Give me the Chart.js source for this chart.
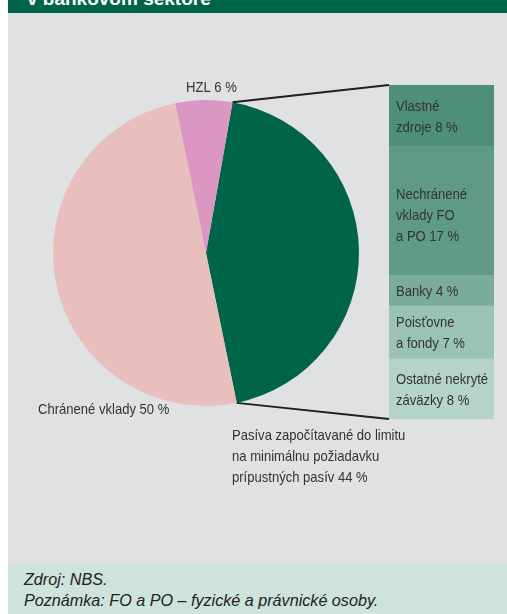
<!DOCTYPE html>
<html>
<head>
<meta charset="utf-8">
<script src="https://cdn.jsdelivr.net/npm/chart.js@4.4.1/dist/chart.umd.min.js"></script>
<style>
body { margin: 0; width: 507px; height: 614px; overflow: hidden; background: #fff; position: relative; }
#band { position: absolute; left: 8px; top: 0; width: 499px; height: 13px; background: #00644b; overflow: hidden; }
#band span { position: absolute; left: 19px; top: -12px; color: #fff; font: bold 19px "Liberation Sans", sans-serif; white-space: nowrap; }
#panel { position: absolute; left: 8px; top: 13px; width: 499px; height: 552px; background: #e0e1e3; }
#pieWrap { position: absolute; left: 8px; top: 13px; width: 499px; height: 552px; }
#barWrap { position: absolute; left: 389px; top: 85px; width: 105px; height: 334px; }
#foot { position: absolute; left: 8px; top: 565px; width: 499px; height: 49px; background: #cde3dc; overflow: hidden;
        font: italic 17px "Liberation Sans", sans-serif; color: #222; }
#foot div { position: absolute; left: 16px; white-space: nowrap; transform: scaleX(0.95); transform-origin: left top; }
</style>
</head>
<body>
<div id="band"><span>v bankovom sektore</span></div>
<div id="panel"></div>
<div id="pieWrap"><canvas id="pieChart"></canvas></div>
<div id="barWrap"><canvas id="barChart"></canvas></div>
<div id="foot">
  <div style="top:5px">Zdroj: NBS.</div>
  <div style="top:26px">Poznámka: FO a PO – fyzické a právnické osoby.</div>
</div>
<script>
// pie data
const pieLabels = [
    ['Pasíva započítavané do limitu', 'na minimálnu požiadavku', 'prípustných pasív 44 %'],
    ['Chránené vklady 50 %'],
    ['HZL 6 %']
];
const pieValues = [44, 50, 6];
const pieColors = ['#006548', '#e8bfbd', '#dc96c3'];

// breakdown of the 44 % (top to bottom)
const barLabels = [
    ['Vlastné', 'zdroje 8 %'],
    ['Nechránené', 'vklady FO', 'a PO 17 %'],
    ['Banky 4 %'],
    ['Poisťovne', 'a fondy 7 %'],
    ['Ostatné nekryté', 'záväzky 8 %']
];
const barValues = [8, 17, 4, 7, 8];
const barColors = ['#4e8f79', '#5e9a86', '#7bab99', '#9ac3b4', '#b3d4c7'];

const FONT = '14.5px "Liberation Sans", sans-serif';
const TEXT = '#333333';

// condensed-looking text (squeeze horizontally)
function condText(ctx, t, x, y) {
    ctx.save();
    ctx.translate(x, y);
    ctx.scale(0.9, 1);
    ctx.fillText(t, 0, 0);
    ctx.restore();
}

// ✅ Stacked bar with the breakdown
const barLabelPlugin = {
    id: 'barLabels',
    afterDatasetsDraw(chart) {
        const ctx = chart.ctx;
        ctx.save();
        ctx.font = FONT;
        ctx.fillStyle = TEXT;
        ctx.textBaseline = 'middle';
        chart.data.datasets.forEach((ds, i) => {
            const el = chart.getDatasetMeta(i).data[0];
            const top = Math.min(el.y, el.base), bot = Math.max(el.y, el.base);
            const lines = barLabels[i];
            const mid = (top + bot) / 2 + (lines.length > 2 ? 6 : 2);
            lines.forEach((t, j) => {
                condText(ctx, t, el.x - el.width / 2 + 7, mid + (j - (lines.length - 1) / 2) * 21);
            });
        });
        ctx.restore();
    }
};

const barChart = new Chart(document.getElementById('barChart'), {
    type: 'bar',
    data: {
        labels: [''],
        datasets: barValues.map((v, i) => ({
            label: barLabels[i].join(' '),
            data: [v],
            backgroundColor: barColors[i],
            borderWidth: 0,
            barPercentage: 1,
            categoryPercentage: 1
        }))
    },
    options: {
        responsive: true,
        maintainAspectRatio: false,
        animation: false,
        layout: { padding: 0 },
        plugins: { legend: { display: false }, tooltip: { enabled: false } },
        scales: {
            x: { stacked: true, display: false },
            y: { stacked: true, display: false, reverse: true, min: 0, max: 44 }
        }
    },
    plugins: [barLabelPlugin]
});

// ✅ Pie with connector lines and labels
const pieExtras = {
    id: 'pieExtras',
    afterDatasetsDraw(chart) {
        const ctx = chart.ctx;
        const arc = chart.getDatasetMeta(0).data[0];
        const r = arc.outerRadius;
        const p1 = [arc.x + r * Math.cos(arc.startAngle), arc.y + r * Math.sin(arc.startAngle)];
        const p2 = [arc.x + r * Math.cos(arc.endAngle), arc.y + r * Math.sin(arc.endAngle)];
        // bar position relative to the pie canvas
        const dx = 389 - 8, dy = 85 - 13;
        const ca = barChart.chartArea;
        const q1 = [ca.left + dx, ca.top + dy];
        const q2 = [ca.left + dx, ca.bottom + dy];
        ctx.save();
        ctx.strokeStyle = '#231f20';
        ctx.lineWidth = 2;
        ctx.beginPath();
        ctx.moveTo(p1[0], p1[1]); ctx.lineTo(q1[0], q1[1]);
        ctx.moveTo(p2[0], p2[1]); ctx.lineTo(q2[0], q2[1]);
        ctx.stroke();

        ctx.font = FONT;
        ctx.fillStyle = TEXT;
        ctx.textBaseline = 'alphabetic';
        // Pasíva label under the lower line
        pieLabels[0].forEach((t, j) => condText(ctx, t, 224, 427 + j * 21));
        // Chránené vklady
        condText(ctx, pieLabels[1][0], 30, 401);
        // HZL
        condText(ctx, pieLabels[2][0], 178, 79);
        ctx.restore();
    }
};

new Chart(document.getElementById('pieChart'), {
    type: 'pie',
    data: {
        labels: pieLabels.map(l => l.join(' ')),
        datasets: [{ data: pieValues, backgroundColor: pieColors, borderWidth: 0 }]
    },
    options: {
        responsive: true,
        maintainAspectRatio: false,
        animation: false,
        rotation: 10,
        layout: { padding: { left: 45, top: 87, right: 148, bottom: 159 } },
        plugins: { legend: { display: false }, tooltip: { enabled: false } }
    },
    plugins: [pieExtras]
});
</script>
</body>
</html>
